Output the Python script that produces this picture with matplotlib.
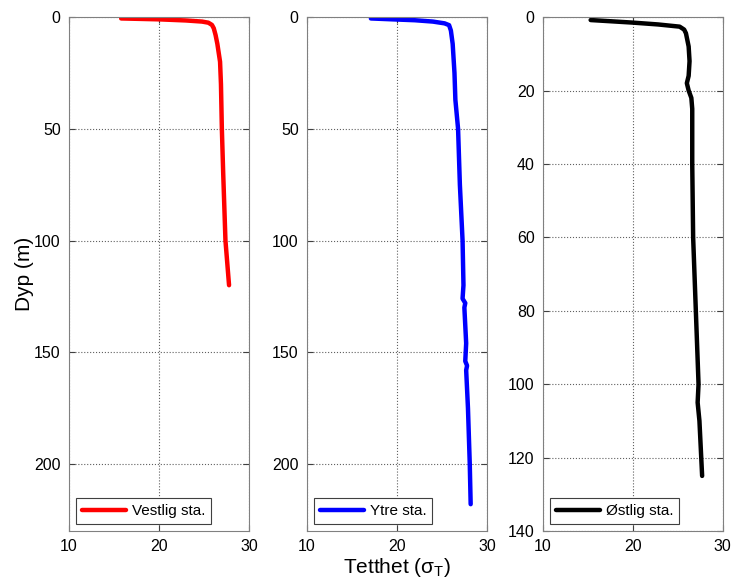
import matplotlib
matplotlib.use("Agg")
import matplotlib.pyplot as plt

plt.rcParams['font.family'] = ['Liberation Sans', 'DejaVu Sans']

# Vestlig stasjon
vest_dyp = [0.6, 1.0, 1.5, 2.0, 2.5, 3.5, 5, 8, 12, 20, 30, 50, 70, 100, 120]
vest_sigma = [15.8, 20.0, 23.0, 24.8, 25.5, 25.9, 26.1, 26.3, 26.5, 26.8, 26.9, 27.0, 27.15, 27.4, 27.8]

# Ytre stasjon
ytre_dyp = [0.6, 1.0, 1.4, 2.0, 2.8, 3.6, 6, 12, 25, 37, 50, 75, 100, 120, 126, 128, 130,
            146, 154, 156, 158, 175, 200, 218]
ytre_sigma = [17.1, 19.5, 22.0, 24.0, 25.3, 25.8, 26.0, 26.2, 26.4, 26.5, 26.8, 27.0, 27.3, 27.4, 27.3, 27.6, 27.5,
              27.7, 27.6, 27.8, 27.7, 27.9, 28.1, 28.2]

# Østlig stasjon
ost_dyp = [0.8, 1.2, 1.5, 2.0, 2.6, 3.4, 4.4, 8, 12, 16, 18, 20, 22, 25, 40, 60, 80, 100, 105, 110, 120, 125]
ost_sigma = [15.3, 18.0, 20.0, 22.8, 25.2, 25.7, 25.9, 26.2, 26.3, 26.2, 26.0, 26.2, 26.5, 26.6, 26.6, 26.7, 27.0, 27.3, 27.2, 27.4, 27.6, 27.7]

stasjoner = [
    (vest_sigma, vest_dyp, 'r', 'Vestlig sta.', 230, [0, 50, 100, 150, 200]),
    (ytre_sigma, ytre_dyp, 'b', 'Ytre sta.', 230, [0, 50, 100, 150, 200]),
    (ost_sigma, ost_dyp, 'k', 'Østlig sta.', 140, [0, 20, 40, 60, 80, 100, 120, 140]),
]

fig = plt.figure(figsize=(7.31, 5.8), dpi=100)
lefts = [0.0944, 0.42, 0.7428]

for left, (x, y, col, navn, ymax, yt) in zip(lefts, stasjoner):
    ax = fig.add_axes([left, 0.0845, 0.246, 0.886])
    ax.plot(x, y, color=col, lw=3.2, label=navn, solid_joinstyle='round', solid_capstyle='round')
    ax.set_xlim(10, 30)
    ax.set_ylim(ymax, 0)
    ax.set_xticks([10, 20, 30])
    ax.set_yticks(yt)
    ax.grid(True, linestyle=':', color='#606060', lw=0.8)
    ax.tick_params(direction='in', top=True, right=True, length=4, labelsize=11.5,
                   color='#404040', pad=6)
    for s in ax.spines.values():
        s.set_color('#808080')
    leg = ax.legend(loc='lower left', fontsize=11, fancybox=False, edgecolor='#404040',
                    handlelength=2.9, handletextpad=0.35, borderaxespad=0.45, framealpha=1)
    leg.get_frame().set_linewidth(0.8)
    if left == lefts[0]:
        ax.set_ylabel('Dyp (m)', fontsize=15, labelpad=0)
    if left == lefts[1]:
        ax.set_xlabel(r'Tetthet ($\mathregular{\sigma_T}$)', fontsize=15, labelpad=1)

plt.savefig('out.png', dpi=100)
